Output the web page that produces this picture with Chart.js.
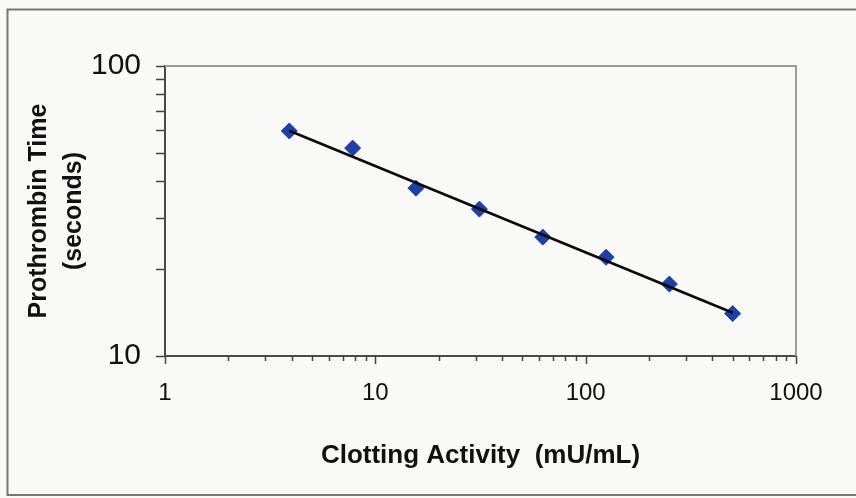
<!DOCTYPE html>
<html>
<head>
<meta charset="utf-8">
<script src="https://cdn.jsdelivr.net/npm/chart.js@4.4.1/dist/chart.umd.min.js"></script>
<style>
  html, body { margin: 0; padding: 0; background: #f9f9f7; }
  #wrap { width: 856px; height: 498px; }
</style>
</head>
<body>
<div id="wrap"><canvas id="chart" width="856" height="498"></canvas></div>
<script>
// Clotting activity (mU/mL) of the dilution series and measured prothrombin times (s)
const activity = [3.9, 7.8, 15.6, 31.25, 62.5, 125, 250, 500];
const ptSeconds = [59.7, 52.1, 37.9, 32.1, 25.7, 21.9, 17.7, 14.0];

// Power-law fit line, drawn between its two end points
const fitActivity = [3.9, 500];
const fitSeconds = [59.8, 14.1];

// Labelled decades on each log axis
const xTickValues = [1, 10, 100, 1000];
const yTickValues = [10, 100];

Chart.defaults.font.family = "'Liberation Sans', Arial, Helvetica, sans-serif";
Chart.defaults.color = '#111';

// Every 1..9 multiple within a decade range, used for tick marks
function logSteps(min, max) {
  const out = [];
  for (let d = min; d < max; d *= 10) {
    for (let k = 1; k < 10; k++) out.push(d * k);
  }
  out.push(max);
  return out;
}

const frameAndTicks = {
  id: 'frameAndTicks',
  beforeDraw(chart) {
    const ctx = chart.ctx;
    ctx.save();
    ctx.fillStyle = '#f9f9f7';
    ctx.fillRect(0, 0, chart.width, chart.height);
    // outer frame
    ctx.strokeStyle = '#777';
    ctx.lineWidth = 2;
    ctx.strokeRect(7.5, 9.5, chart.width + 20, chart.height - 12.5);
    ctx.restore();
  },
  beforeDatasetsDraw(chart) {
    const ctx = chart.ctx;
    const a = chart.chartArea;
    const xs = chart.scales.x, ys = chart.scales.y;
    ctx.save();
    // top and right plot border
    ctx.strokeStyle = '#9a9a9a';
    ctx.lineWidth = 2;
    ctx.beginPath();
    ctx.moveTo(a.left, a.top);
    ctx.lineTo(a.right, a.top);
    ctx.lineTo(a.right, a.bottom);
    ctx.stroke();
    // tick marks
    ctx.strokeStyle = '#444';
    ctx.lineWidth = 1.5;
    ctx.beginPath();
    logSteps(xs.min, xs.max).forEach(v => {
      const px = Math.round(xs.getPixelForValue(v)) + 0.5;
      const major = xTickValues.includes(v);
      ctx.moveTo(px, a.bottom);
      ctx.lineTo(px, a.bottom + (major ? 8 : 5));
    });
    logSteps(ys.min, ys.max).forEach(v => {
      const py = Math.round(ys.getPixelForValue(v)) + 0.5;
      ctx.moveTo(a.left, py);
      ctx.lineTo(a.left - 9, py);
    });
    ctx.stroke();
    ctx.restore();
  }
};

new Chart(document.getElementById('chart'), {
  type: 'scatter',
  data: {
    datasets: [
      {
        label: 'Fit',
        data: fitActivity.map((x, i) => ({ x, y: fitSeconds[i] })),
        showLine: true,
        borderColor: '#0a0a0a',
        borderWidth: 2.6,
        pointRadius: 0,
        order: 0
      },
      {
        label: 'Prothrombin time',
        data: activity.map((x, i) => ({ x, y: ptSeconds[i] })),
        pointStyle: 'rectRot',
        pointRadius: 8,
        pointBackgroundColor: '#1d3fa6',
        pointBorderColor: '#1d3fa6',
        pointBorderWidth: 1,
        showLine: false,
        order: 1
      }
    ]
  },
  options: {
    responsive: false,
    animation: false,
    layout: { padding: { top: 66, right: 60, bottom: 0, left: 0 } },
    plugins: { legend: { display: false }, tooltip: { enabled: false } },
    scales: {
      x: {
        type: 'logarithmic',
        min: 1,
        max: 1000,
        afterBuildTicks(scale) { scale.ticks = xTickValues.map(v => ({ value: v })); },
        afterFit(scale) { scale.height = 142; },
        grid: { display: false, drawTicks: false },
        border: { display: true, color: '#4a4a4a', width: 2 },
        ticks: {
          autoSkip: false,
          maxRotation: 0,
          padding: 23,
          font: { size: 24 },
          color: '#111',
          callback: v => String(v)
        },
        title: {
          display: true,
          text: 'Clotting Activity  (mU/mL)',
          font: { size: 26, weight: 'bold', lineHeight: 1.2 },
          color: '#111',
          padding: { top: 0, bottom: 27 }
        }
      },
      y: {
        type: 'logarithmic',
        min: 10,
        max: 100,
        afterBuildTicks(scale) { scale.ticks = yTickValues.map(v => ({ value: v })); },
        afterFit(scale) { scale.width = 165; },
        grid: { display: false, drawTicks: false },
        border: { display: true, color: '#4a4a4a', width: 2 },
        ticks: {
          autoSkip: false,
          padding: 24,
          font: { size: 30 },
          color: '#111',
          callback: v => String(v)
        },
        title: {
          display: true,
          text: ['Prothrombin Time', '(seconds)'],
          font: { size: 25, weight: 'bold', lineHeight: 1.4 },
          color: '#111',
          padding: { top: 22, bottom: 0 }
        }
      }
    }
  },
  plugins: [frameAndTicks]
});
</script>
</body>
</html>
